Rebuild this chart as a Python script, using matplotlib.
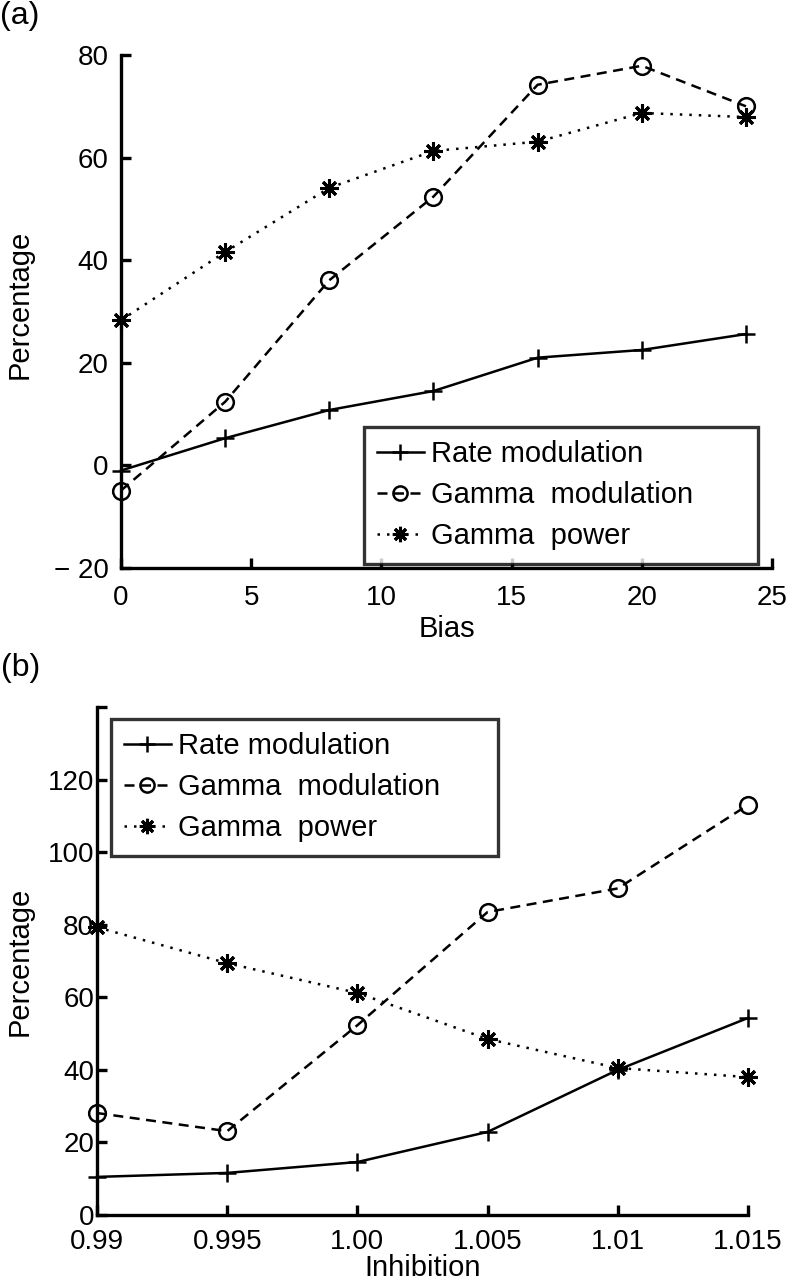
import matplotlib
matplotlib.use("Agg")
import matplotlib.pyplot as plt

plt.rcParams['font.family'] = ['Liberation Sans', 'DejaVu Sans']

# Panel (a)
bias = [0, 4, 8, 12, 16, 20, 24]
rate_a = [-1.0, 5.3, 10.8, 14.5, 21.0, 22.5, 25.6]
gmod_a = [-4.9, 12.4, 36.1, 52.4, 74.2, 77.9, 70.0]
gpow_a = [28.3, 41.6, 54.1, 61.3, 63.1, 68.7, 67.9]
xticks_a = [0, 5, 10, 15, 20, 25]
yticks_a = [-20, 0, 20, 40, 60, 80]
yticklabels_a = ['\u2212 20', '0', '20', '40', '60', '80']

# Panel (b)
inhibition = [0.99, 0.995, 1.00, 1.005, 1.01, 1.015]
rate_b = [10.5, 11.6, 14.6, 22.9, 40.0, 54.3]
gmod_b = [28.1, 23.1, 52.3, 83.5, 90.0, 113.0]
gpow_b = [79.3, 69.4, 61.2, 48.5, 40.5, 38.0]
xticklabels_b = ['0.99', '0.995', '1.00', '1.005', '1.01', '1.015']
yticks_b = [0, 20, 40, 60, 80, 100, 120, 140]
yticklabels_b = ['0', '20', '40', '60', '80', '100', '120', '']

labels = ['Rate modulation', 'Gamma  modulation', 'Gamma  power']

W, H = 791, 1280
fig = plt.figure(figsize=(W / 100, H / 100), dpi=100)

def px_axes(l, r, t, b):
    return fig.add_axes([l / W, 1 - b / H, (r - l) / W, (b - t) / H])

ax_a = px_axes(121, 772, 55, 568)
ax_b = px_axes(97, 748, 707, 1215)

star = (8, 2, 0)
lw = 1.8

def style_axes(ax, xpad, ypad):
    for s in ['top', 'right']:
        ax.spines[s].set_visible(False)
    for s in ['left', 'bottom']:
        ax.spines[s].set_linewidth(2.4)
    ax.tick_params(direction='in', length=7, width=2.4, labelsize=20)
    ax.tick_params(axis='x', pad=xpad)
    ax.tick_params(axis='y', pad=ypad)

def draw(ax, x, r, g, p):
    h1, = ax.plot(x, r, color='black', lw=lw, ls='-', marker='+', ms=13, mew=1.8, clip_on=False)
    h2, = ax.plot(x, g, color='black', lw=lw, ls=(0, (4, 2.6)), marker='o', ms=12,
                  mfc='none', mew=1.8, clip_on=False)
    h3, = ax.plot(x, p, color='black', lw=lw, ls=(0, (1, 2.8)), marker=star, ms=13,
                  mew=2.2, clip_on=False)
    return [h1, h2, h3]

def make_legend(ax, hs, box):
    l, t, r, b = box
    leg = ax.legend(hs, labels, loc='upper left', mode='expand',
                    bbox_to_anchor=(l / W, 1 - b / H, (r - l) / W, (b - t) / H),
                    bbox_transform=fig.transFigure, fontsize=21, frameon=True, fancybox=False,
                    handlelength=1.6, handletextpad=0.25, borderpad=0.45, labelspacing=0.45,
                    borderaxespad=0, markerscale=0.85)
    leg.get_frame().set_edgecolor('black')
    leg.get_frame().set_linewidth(2.4)
    return leg

def place_labels(ax, xlabel, xlab_y, ylabel, ylab_x, ylab_y):
    ax.set_xlabel(xlabel, fontsize=21)
    ax.set_ylabel(ylabel, fontsize=21)
    xc = (ax.get_position().x0 + ax.get_position().x1) / 2
    ax.xaxis.set_label_coords(xc, 1 - xlab_y / H, transform=fig.transFigure)
    ax.xaxis.label.set_verticalalignment('baseline')
    ax.yaxis.set_label_coords(ylab_x / W, 1 - ylab_y / H, transform=fig.transFigure)

# ---- (a)
hs = draw(ax_a, bias, rate_a, gmod_a, gpow_a)
ax_a.set_xlim(0, 25)
ax_a.set_ylim(-20, 80)
ax_a.set_xticks(xticks_a)
ax_a.set_yticks(yticks_a)
ax_a.set_yticklabels(yticklabels_a)
style_axes(ax_a, 12, 9)
place_labels(ax_a, 'Bias', 637, 'Percentage', 34, 304)
make_legend(ax_a, hs, (364, 427, 758, 559))

# ---- (b)
hs = draw(ax_b, inhibition, rate_b, gmod_b, gpow_b)
ax_b.set_xlim(0.99, 1.015)
ax_b.set_ylim(0, 140)
ax_b.set_xticks(inhibition)
ax_b.set_xticklabels(xticklabels_b)
ax_b.set_yticks(yticks_b)
ax_b.set_yticklabels(yticklabels_b)
style_axes(ax_b, 10, 2)
place_labels(ax_b, 'Inhibition', 1276, 'Percentage', 34, 961)
make_legend(ax_b, hs, (111, 719, 498, 849))

fig.text(20 / W, 1 - 16 / H, '(a)', fontsize=23, ha='center', va='center')
fig.text(21 / W, 1 - 668 / H, '(b)', fontsize=23, ha='center', va='center')

fig.savefig('out.png', dpi=100, facecolor='white')
